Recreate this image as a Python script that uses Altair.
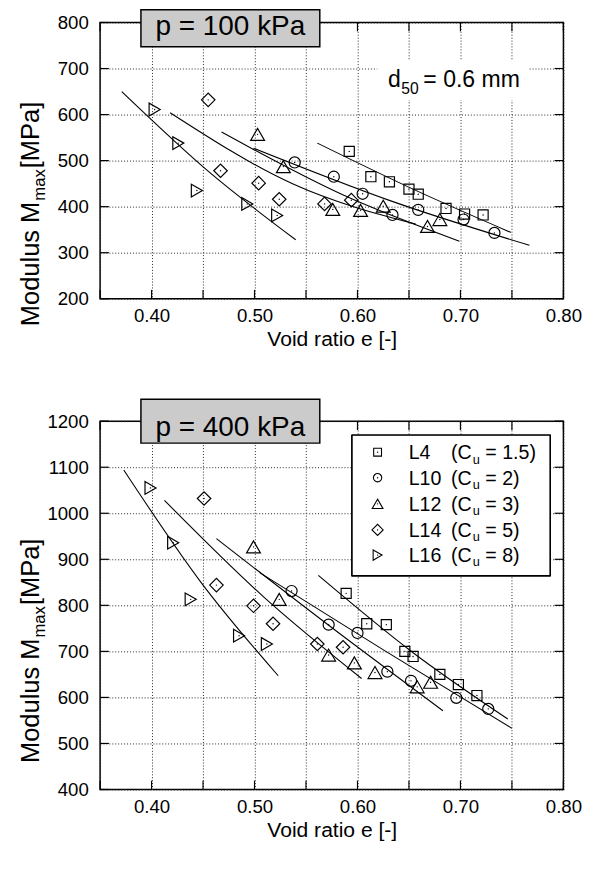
import altair as alt
import pandas as pd

FONT = "Liberation Sans"
W = 473
H1 = 282
H2 = 376

series = ["L4", "L10", "L12", "L14", "L16"]
cu_values = ["1.5", "2", "3", "5", "8"]

# ---------------- p = 100 kPa ----------------
e100_L4 = [0.592, 0.613, 0.631, 0.650, 0.659, 0.686, 0.704, 0.722]
M100_L4 = [520, 465, 454, 438, 427, 396, 384, 382]
e100_L10 = [0.539, 0.577, 0.605, 0.634, 0.659, 0.703, 0.733]
M100_L10 = [496, 465, 428, 382, 393, 372, 343]
e100_L12 = [0.503, 0.528, 0.576, 0.603, 0.625, 0.668, 0.680]
M100_L12 = [557, 487, 394, 392, 401, 357, 372]
e100_L14 = [0.455, 0.467, 0.504, 0.524, 0.568, 0.594]
M100_L14 = [632, 478, 451, 416, 406, 414]
e100_L16 = [0.403, 0.426, 0.444, 0.493, 0.522]
M100_L16 = [611, 538, 435, 406, 381]

fit100_e_L4 = [0.561, 0.655, 0.749]
fit100_M_L4 = [538, 437, 344]
fit100_e_L10 = [0.499, 0.633, 0.767]
fit100_M_L10 = [527, 412, 316]
fit100_e_L12 = [0.468, 0.5835, 0.699]
fit100_M_L12 = [562, 428, 325]
fit100_e_L14 = [0.418, 0.5375, 0.6565]
fit100_M_L14 = [604, 449, 362]
fit100_e_L16 = [0.371, 0.4555, 0.540]
fit100_M_L16 = [650, 476, 328]

# ---------------- p = 400 kPa ----------------
e400_L4 = [0.589, 0.609, 0.628, 0.646, 0.654, 0.680, 0.698, 0.716]
M400_L4 = [826, 760, 758, 700, 689, 650, 628, 604]
e400_L10 = [0.536, 0.572, 0.600, 0.629, 0.652, 0.696, 0.727]
M400_L10 = [831, 758, 740, 656, 636, 599, 575]
e400_L12 = [0.499, 0.524, 0.572, 0.597, 0.617, 0.658, 0.671]
M400_L12 = [927, 813, 692, 675, 654, 623, 633]
e400_L14 = [0.451, 0.463, 0.499, 0.518, 0.561, 0.586]
M400_L14 = [1032, 844, 799, 760, 716, 709]
e400_L16 = [0.399, 0.421, 0.438, 0.485, 0.512]
M400_L16 = [1055, 936, 813, 734, 716]

fit400_e_L4 = [0.562, 0.654, 0.746]
fit400_M_L4 = [865, 697, 553]
fit400_e_L10 = [0.505, 0.6275, 0.750]
fit400_M_L10 = [871, 700, 533]
fit400_e_L12 = [0.463, 0.573, 0.683]
fit400_M_L12 = [945, 755, 571]
fit400_e_L14 = [0.4125, 0.508, 0.604]
fit400_M_L14 = [1028, 820, 641]
fit400_e_L16 = [0.373, 0.448, 0.523]
fit400_M_L16 = [1094, 850, 647]

x_ticks = [0.35, 0.40, 0.45, 0.50, 0.55, 0.60, 0.65, 0.70, 0.75, 0.80]
y_ticks_100 = [200, 300, 400, 500, 600, 700, 800]
y_ticks_400 = [400, 500, 600, 700, 800, 900, 1000, 1100, 1200]

# ---------------- styles ----------------
SHAPE = {"L4": "square", "L10": "circle", "L12": "triangle-up",
         "L14": "diamond", "L16": "triangle-right"}
SIZE = {"L4": 106, "L10": 128, "L12": 200, "L14": 190, "L16": 170}
LSIZE = {"L4": 64, "L10": 72, "L12": 120, "L14": 130, "L16": 110}


def points_df(es, ms):
    rows = []
    for s, el, ml in zip(series, es, ms):
        for e, m in zip(el, ml):
            rows.append({"series": s, "e": e, "M": m,
                         "shape": SHAPE[s], "sz": SIZE[s]})
    return pd.DataFrame(rows)


def fits_df(es, ms):
    rows = []
    for s, el, ml in zip(series, es, ms):
        for i, (e, m) in enumerate(zip(el, ml)):
            rows.append({"series": s, "e": e, "M": m, "order": i})
    return pd.DataFrame(rows)


pts100 = points_df([e100_L4, e100_L10, e100_L12, e100_L14, e100_L16],
                   [M100_L4, M100_L10, M100_L12, M100_L14, M100_L16])
fit100 = fits_df([fit100_e_L4, fit100_e_L10, fit100_e_L12, fit100_e_L14, fit100_e_L16],
                 [fit100_M_L4, fit100_M_L10, fit100_M_L12, fit100_M_L14, fit100_M_L16])
pts400 = points_df([e400_L4, e400_L10, e400_L12, e400_L14, e400_L16],
                   [M400_L4, M400_L10, M400_L12, M400_L14, M400_L16])
fit400 = fits_df([fit400_e_L4, fit400_e_L10, fit400_e_L12, fit400_e_L14, fit400_e_L16],
                 [fit400_M_L4, fit400_M_L10, fit400_M_L12, fit400_M_L14, fit400_M_L16])

TICK = 9


def panel(pts, fits, yticks, height, title_text, title_box, title_base, ytitle_start):
    xs = alt.Scale(domain=[0.35, 0.80], nice=False, zero=False)
    ys = alt.Scale(domain=[yticks[0], yticks[-1]], nice=False, zero=False)
    xaxis = alt.Axis(values=x_ticks, grid=True, ticks=False, domain=False,
                     labelExpr="abs(datum.value*10 - round(datum.value*10)) < 0.001 ? format(datum.value, '.2f') : ''",
                     labelPadding=8, title="Void ratio e [-]", titlePadding=4,
                     labelFlush=False, labelOverlap=False)
    yaxis = alt.Axis(values=yticks, grid=True, ticks=False, domain=False,
                     format="d", labelPadding=12, title=None, labelOverlap=False)
    X = alt.X("e:Q", scale=xs, axis=xaxis)
    Y = alt.Y("M:Q", scale=ys, axis=yaxis)

    lines = alt.Chart(fits).mark_line(color="black", strokeWidth=1.1,
                                      interpolate="monotone").encode(
        x=X, y=Y, detail="series:N", order="order:Q")
    marks = alt.Chart(pts).mark_point(filled=False, color="black", strokeWidth=1.2,
                                      opacity=1).encode(
        x=X, y=Y, shape=alt.Shape("shape:N", scale=None),
        size=alt.Size("sz:Q", scale=None))
    dots = alt.Chart(pts).mark_circle(color="black", size=2, opacity=1).encode(x=X, y=Y)

    xt = pd.DataFrame({"e": x_ticks})
    yt = pd.DataFrame({"M": yticks})
    tb = alt.Chart(xt).mark_rule(color="black", strokeWidth=1.2).encode(
        x=X, y=alt.value(height - TICK), y2=alt.value(height))
    tt = alt.Chart(xt).mark_rule(color="black", strokeWidth=1.2).encode(
        x=X, y=alt.value(0), y2=alt.value(TICK))
    tl = alt.Chart(yt).mark_rule(color="black", strokeWidth=1.2).encode(
        y=Y, x=alt.value(0), x2=alt.value(TICK))
    tr = alt.Chart(yt).mark_rule(color="black", strokeWidth=1.2).encode(
        y=Y, x=alt.value(W - TICK), x2=alt.value(W))

    tdf = pd.DataFrame({"t": [title_text]})
    box = alt.Chart(tdf).mark_rect(fill="#cbcbcb", stroke="black", strokeWidth=1.5).encode(
        x=alt.value(title_box[0]), x2=alt.value(title_box[1]),
        y=alt.value(title_box[2]), y2=alt.value(title_box[3]))
    btxt = alt.Chart(tdf).mark_text(font=FONT, fontSize=28.5, align="center",
                                    baseline="alphabetic", color="black").encode(
        x=alt.value((title_box[0] + title_box[1]) / 2), y=alt.value(title_base),
        text="t:N")

    # y-axis title with subscript
    fs, fsub = 26, 17
    w1 = 4.89 * fs
    wsub = 1.889 * fsub
    yx = -62
    ydf = pd.DataFrame({"a": ["Modulus M"], "b": ["max"], "c": [" [MPa]"]})
    yt1 = alt.Chart(ydf).mark_text(font=FONT, fontSize=fs, angle=270, align="left",
                                   baseline="alphabetic", color="black").encode(
        x=alt.value(yx), y=alt.value(ytitle_start), text="a:N")
    yt2 = alt.Chart(ydf).mark_text(font=FONT, fontSize=fsub, angle=270, align="left",
                                   baseline="alphabetic", color="black").encode(
        x=alt.value(yx + 6), y=alt.value(ytitle_start - w1 - 1), text="b:N")
    yt3 = alt.Chart(ydf).mark_text(font=FONT, fontSize=fs, angle=270, align="left",
                                   baseline="alphabetic", color="black").encode(
        x=alt.value(yx), y=alt.value(ytitle_start - w1 - wsub - 2), text="c:N")

    layers = [lines, marks, dots, tb, tt, tl, tr, box, btxt, yt1, yt2, yt3]
    return layers, X, Y


# ---------- top panel ----------
layers1, X1, Y1 = panel(pts100, fit100, y_ticks_100, H1, "p = 100 kPa",
                        (41.7, 224.3, -13, 24.7), 12.3, 310)
ddf = pd.DataFrame({"a": ["d"], "b": ["50"], "c": ["= 0.6 mm"]})
dbox = alt.Chart(ddf).mark_rect(fill="white").encode(
    x=alt.value(283), x2=alt.value(437), y=alt.value(39), y2=alt.value(79))
d1 = alt.Chart(ddf).mark_text(font=FONT, fontSize=23.5, align="left", baseline="alphabetic",
                              color="black").encode(x=alt.value(294), y=alt.value(66.3), text="a:N")
d2 = alt.Chart(ddf).mark_text(font=FONT, fontSize=16, align="left", baseline="alphabetic",
                              color="black").encode(x=alt.value(307.5), y=alt.value(73), text="b:N")
d3 = alt.Chart(ddf).mark_text(font=FONT, fontSize=23.5, align="left", baseline="alphabetic",
                              color="black").encode(x=alt.value(330), y=alt.value(66.3), text="c:N")
top = alt.layer(*(layers1[:7] + [dbox, d1, d2, d3] + layers1[7:])).properties(width=W, height=H1)

# ---------- bottom panel ----------
layers2, X2, Y2 = panel(pts400, fit400, y_ticks_400, H2, "p = 400 kPa",
                        (41.7, 224.3, -22.3, 22.4), 15, 349)
pxv = H2 / 800.0
row_rel = [31.7, 57.7, 84.4, 111.0, 136.7]
leg = pd.DataFrame({
    "series": series,
    "cu": ["= " + c + ")" for c in cu_values],
    "pc": ["(C"] * 5,
    "u": ["u"] * 5,
    "M": [1200 - r / pxv for r in row_rel],
    "Mt": [1200 - (r + 7.3) / pxv for r in row_rel],
    "Ms": [1200 - (r + 11.6) / pxv for r in row_rel],
    "shape": [SHAPE[s] for s in series],
    "sz": [LSIZE[s] for s in series],
})
lbox = alt.Chart(leg).mark_rect(fill="white", stroke="black", strokeWidth=1.2).encode(
    x=alt.value(257.3), x2=alt.value(459.3), y=alt.value(14.4), y2=alt.value(157.7))
yts = alt.Scale(domain=[400, 1200], nice=False, zero=False)
lsym = alt.Chart(leg).mark_point(filled=False, color="black", strokeWidth=1.1, opacity=1).encode(
    x=alt.value(283.3), y=alt.Y("M:Q", scale=yts),
    shape=alt.Shape("shape:N", scale=None), size=alt.Size("sz:Q", scale=None))
ldot = alt.Chart(leg).mark_circle(color="black", size=2, opacity=1).encode(
    x=alt.value(283.3), y=alt.Y("M:Q", scale=yts))
ltxt_kw = dict(font=FONT, align="left", baseline="alphabetic", color="black")
l1 = alt.Chart(leg).mark_text(fontSize=20, **ltxt_kw).encode(
    x=alt.value(315), y=alt.Y("Mt:Q", scale=yts), text="series:N")
l2 = alt.Chart(leg).mark_text(fontSize=20, **ltxt_kw).encode(
    x=alt.value(358.3), y=alt.Y("Mt:Q", scale=yts), text="pc:N")
l3 = alt.Chart(leg).mark_text(fontSize=13, **ltxt_kw).encode(
    x=alt.value(380.5), y=alt.Y("Ms:Q", scale=yts), text="u:N")
l4 = alt.Chart(leg).mark_text(fontSize=20, **ltxt_kw).encode(
    x=alt.value(393.3), y=alt.Y("Mt:Q", scale=yts), text="cu:N")
bottom = alt.layer(*(layers2[:7] + [lbox, lsym, ldot, l1, l2, l3, l4] + layers2[7:])).properties(
    width=W, height=H2)

chart = alt.vconcat(top, bottom, spacing=125, bounds="flush").properties(
    padding={"left": 10, "top": -9, "right": 0, "bottom": 0}
).configure_axis(
    labelFont=FONT, labelFontSize=19, labelColor="black",
    titleFont=FONT, titleFontSize=21.5, titleColor="black", titleFontWeight="normal",
    gridColor="#222222", gridDash=[1, 2], gridWidth=1, gridOpacity=1
).configure_view(stroke="black", strokeWidth=1.5)

chart.save("out.html", embed_options={"renderer": "svg", "actions": False})
